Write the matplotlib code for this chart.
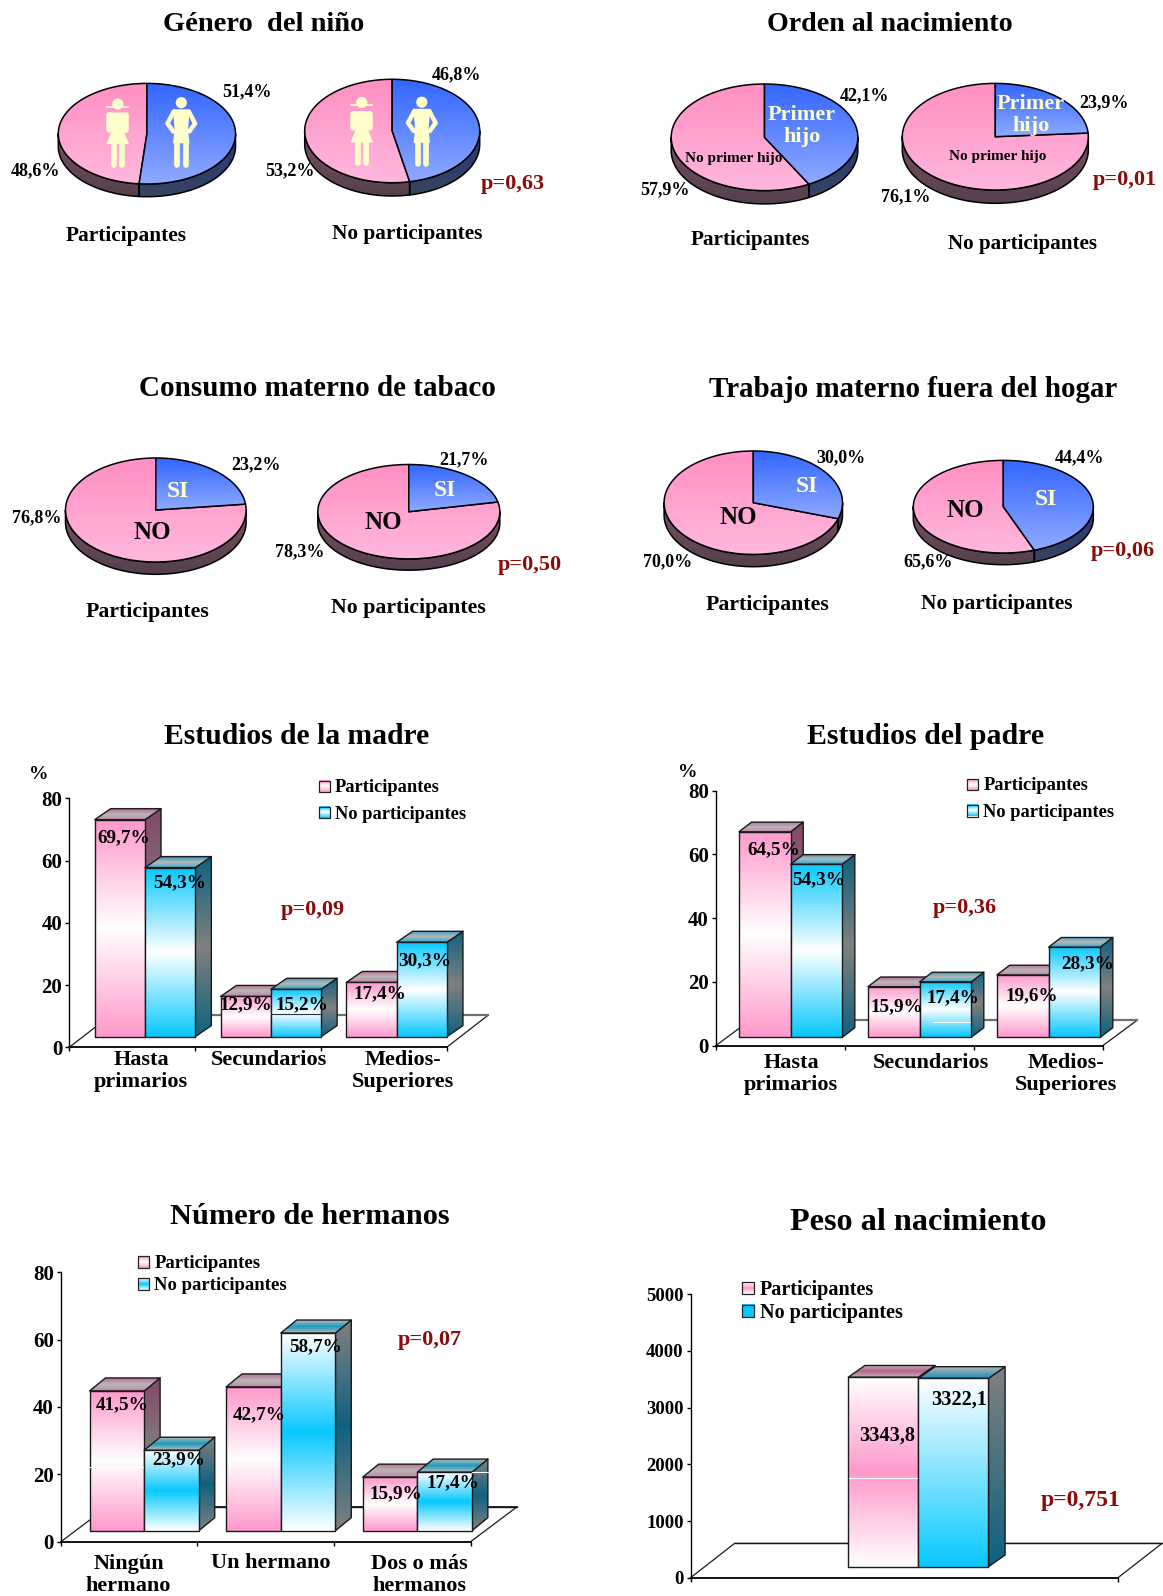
import numpy as np
import matplotlib
matplotlib.use("Agg")
import matplotlib.pyplot as plt
from matplotlib.colors import to_rgb
from matplotlib.patches import Polygon, Circle

W, H = 1163, 1596
plt.rcParams["font.family"] = ["Liberation Serif", "DejaVu Serif"]
plt.rcParams["font.weight"] = "bold"

# shares of the blue slice, percent
genero_part = [51.4, 48.6]
genero_nopart = [46.8, 53.2]
orden_part = [42.1, 57.9]
orden_nopart = [23.9, 76.1]
tabaco_part = [23.2, 76.8]
tabaco_nopart = [21.7, 78.3]
trabajo_part = [30.0, 70.0]
trabajo_nopart = [44.4, 65.6]

# bar groups
madre_cats = ["Hasta\nprimarios", "Secundarios", "Medios-\nSuperiores"]
madre_part = [69.7, 12.9, 17.4]
madre_nopart = [54.3, 15.2, 30.3]
padre_cats = ["Hasta\nprimarios", "Secundarios", "Medios-\nSuperiores"]
padre_part = [64.5, 15.9, 19.6]
padre_nopart = [54.3, 17.4, 28.3]
hermanos_cats = ["Ningún\nhermano", "Un hermano", "Dos o más\nhermanos"]
hermanos_part = [41.5, 42.7, 15.9]
hermanos_nopart = [23.9, 58.7, 17.4]
peso_part = [3343.8]
peso_nopart = [3322.1]

PINK, CYAN, WHITE = "#ff99cc", "#08c8ff", "#ffffff"
CREAM, DARKRED = "#ffffcc", "#8b0a0a"
SIDE_P, SIDE_B, GREY = "#84486a", "#0e627f", "#808080"
TOP = "#b8b8b8"

fig = plt.figure(figsize=(W / 100, H / 100), dpi=100, facecolor="white")

# full-figure layer in pixel units for free text, swatches and pictograms
ov = fig.add_axes([0, 0, 1, 1], zorder=10)
ov.set_xlim(0, W)
ov.set_ylim(H, 0)
ov.axis("off")
ov.patch.set_alpha(0)
ov.set_autoscale_on(False)


def put(x, y, s, size=15, color="black", **kw):
    ov.text(x, y + 1.8, s, fontsize=size, color=color, ha=kw.pop("ha", "center"),
            va="center", fontweight="bold", linespacing=kw.pop("ls", 1.0), **kw)


def gradient(stops, n=128):
    rgb = np.array([to_rgb(c) for c in stops])
    pos = np.linspace(0, 1, len(stops))
    t = np.linspace(0, 1, n)
    return np.stack([np.interp(t, pos, rgb[:, i]) for i in range(3)], axis=1)[:, None, :]


def fill_gradient(ax, pts, stops, z, edge="#1a1a1a", lw=1.0):
    pts = np.asarray(pts)
    poly = Polygon(pts, closed=True, transform=ax.transData, fc="none", ec=edge,
                   lw=lw, zorder=z + 0.1, clip_on=False, joinstyle="round")
    ax.add_patch(poly)
    ext = (pts[:, 0].min(), pts[:, 0].max(), pts[:, 1].min(), pts[:, 1].max())
    im = ax.imshow(gradient(stops), extent=ext, origin="upper", aspect="auto",
                   interpolation="bilinear", zorder=z)
    clip = Polygon(pts, closed=True, transform=ax.transData)
    im.set_clip_path(clip)
    im.set_clip_box(fig.bbox)


def pie3d(cx, cy, a, b, d, shares, lw=1.1):
    ax = fig.add_axes([(cx - a) / W, 1 - (cy + b) / H, 2 * a / W, 2 * b / H])
    ax.set_xlim(-1, 1)
    ax.set_ylim(-1, 1)
    ax.axis("off")
    ax.set_autoscale_on(False)
    end = 90 - shares[0] * 3.6
    depth = 2 * d / (2 * b)

    def arc(t0, t1):
        t = np.radians(np.linspace(t0, t1, 160))
        return np.column_stack([np.cos(t), np.sin(t)])

    def rim(t0, t1):
        top = arc(t0, t1)
        return np.vstack([top, top[::-1] - [0, depth]])

    # visible rim: lower half of the disc only
    if end < 0:
        fill_gradient(ax, rim(0, end), ["#24387a", "#384460"], 1, "black", lw)
    fill_gradient(ax, rim(min(end, 0), -180), ["#7a5064", "#54404c"], 1, "black", lw)
    fill_gradient(ax, np.vstack([[[0, 0]], arc(end, -270)]), ["#ff8fc4", "#ffb8de"], 2, "black", lw)
    fill_gradient(ax, np.vstack([[[0, 0]], arc(90, end)]), ["#3366ff", "#8faaff"], 3, "black", lw)


def girl(x, y):
    ov.add_patch(Circle((x, y - 28.5), 5.6, fc=CREAM, ec="none"))
    ov.plot([x - 10.5, x + 10.5], [y - 25.8, y - 25.8], color=CREAM, lw=1.2)
    ov.add_patch(Polygon([(x - 9, y - 20), (x + 9, y - 20), (x + 6.3, y - 1), (x + 11.3, y + 11.5),
                          (x - 11.3, y + 11.5), (x - 6.3, y - 1)], fc=CREAM, ec="none"))
    for s in (-1, 1):
        ov.plot([x + s * 8.6, x + s * 8.6], [y - 17.5, y - 3], color=CREAM, lw=4, solid_capstyle="round")
        ov.plot([x + s * 3.9, x + s * 3.9], [y + 11, y + 32], color=CREAM, lw=4.1, solid_capstyle="round")


def boy(x, y):
    ov.add_patch(Circle((x, y - 29.8), 5.6, fc=CREAM, ec="none"))
    ov.add_patch(Polygon([(x - 8.3, y - 23.2), (x + 8.3, y - 23.2), (x + 6.7, y - 2), (x + 8.3, y + 10.8),
                          (x - 8.3, y + 10.8), (x - 6.7, y - 2)], fc=CREAM, ec="none"))
    for s in (-1, 1):
        ov.plot([x + s * 7.5, x + s * 13.8, x + s * 8], [y - 21, y - 9, y - 1], color=CREAM, lw=3.2,
                solid_joinstyle="round", solid_capstyle="round")
        ov.plot([x + s * 4.2, x + s * 4.2], [y + 10, y + 32], color=CREAM, lw=4.1, solid_capstyle="round")


def bars3d(axis_px, ymax, yticks, cats, part, nopart, start, width, floor, depth, base_px,
           front, side, top, floor_color="#1a1a1a", floor_lw=1.0, edge="#1a1a1a"):
    x0, x1, ytop, y0 = axis_px
    n = len(cats)
    ax = fig.add_axes([x0 / W, 1 - y0 / H, (x1 - x0) / W, (y0 - ytop) / H], zorder=2)
    ax.patch.set_alpha(0)
    ax.set_xlim(0, n)
    ax.set_ylim(0, ymax)
    ax.set_autoscale_on(False)
    px_x = n / (x1 - x0)
    px_y = ymax / (y0 - ytop)
    for s in ("top", "right"):
        ax.spines[s].set_visible(False)
    ax.spines["left"].set_linewidth(1.0)
    ax.spines["bottom"].set_linewidth(1.3)
    ax.set_yticks(yticks)
    ax.set_xticks(range(n + 1))
    ax.set_xticklabels([])
    ax.tick_params(length=3, width=1, pad=2, labelsize=15 if ymax < 100 else 13.5)

    # floor behind the bars
    fx, fy = floor[0] * px_x, floor[1] * px_y
    ax.plot([0, fx, n + fx, n], [0, fy, fy, 0], color="#1a1a1a", lw=0.9, clip_on=False, zorder=1)
    ax.plot([fx, n + fx], [fy, fy], color=floor_color, lw=floor_lw, clip_on=False, zorder=1.1)

    dx, dy = depth[0] * px_x, depth[1] * px_y
    base = base_px * px_y
    z = 3
    for i in range(n):
        for j, (vals, k) in enumerate(((part, 0), (nopart, 1))):
            l = i + start + j * width
            r = l + width
            t = base + vals[i]
            fill_gradient(ax, [(r, base), (r + dx, base + dy), (r + dx, t + dy), (r, t)], side[k], z, edge)
            fill_gradient(ax, [(l, t), (r, t), (r + dx, t + dy), (l + dx, t + dy)], top[k], z + 1, edge)
            fill_gradient(ax, [(l, base), (r, base), (r, t), (l, t)], front[k], z + 2, edge)
            z += 3
    return ax


def swatch(x0, x1, y0, y1, stops):
    ov.imshow(gradient(stops), extent=(x0, x1, y1, y0), aspect="auto", interpolation="bilinear", zorder=0.5)
    ov.add_patch(Polygon([(x0, y0), (x1, y0), (x1, y1), (x0, y1)], fc="none", ec="#222222", lw=0.9, zorder=0.6))


def pct(v):
    return f"{v:.1f}%".replace(".", ",")


# ---- pies ----
pie3d(146.9, 133.7, 88.6, 50.3, 12.7, genero_part)
pie3d(392.2, 131.0, 87.5, 51.7, 13.3, genero_nopart)
pie3d(764.5, 137.3, 93.3, 53.3, 13.3, orden_part)
pie3d(995.3, 136.7, 93.0, 53.3, 13.3, orden_nopart)
pie3d(155.8, 510.0, 90.3, 52.0, 12.3, tabaco_part)
pie3d(408.8, 511.7, 91.0, 47.2, 11.3, tabaco_nopart)
pie3d(753.3, 502.7, 89.2, 51.7, 12.3, trabajo_part)
pie3d(1003.3, 506.7, 90.0, 46.3, 11.7, trabajo_nopart)

girl(117.7, 132.5)
boy(181.3, 132.5)
girl(361.8, 131)
boy(421.8, 132)

put(263.5, 22.4, "Género  del niño", 20.5)
put(247, 89.5, pct(genero_part[0]), 13)
put(35.6, 169, pct(genero_part[1]), 13)
put(457, 73, pct(genero_nopart[0]), 13)
put(290, 169, pct(genero_nopart[1]), 13)
put(513, 182, "p=0,63", 16, DARKRED)
put(126, 234, "Participantes", 15.4)
put(407, 232, "No participantes", 15.3)

put(890, 22.4, "Orden al nacimiento", 20.2)
put(864, 93.6, pct(orden_part[0]), 13)
put(665, 188, pct(orden_part[1]), 13)
put(1104, 101, pct(orden_nopart[0]), 13)
put(905.6, 195.4, pct(orden_nopart[1]), 13)
put(1125, 178, "p=0,01", 16, DARKRED)
put(750, 238, "Participantes", 15.2)
put(1022.6, 242, "No participantes", 15.2)
put(733.6, 156.7, "No primer hijo", 11)
put(998, 154.7, "No primer hijo", 11)
put(802, 124, "Primer\nhijo", 16, CREAM, ls=1.15)
put(1031, 113.5, "Primer\nhijo", 16, CREAM, ls=1.15)

put(317.5, 386.6, "Consumo materno de tabaco", 21)
put(256.4, 463, pct(tabaco_part[0]), 13)
put(36.6, 516, pct(tabaco_part[1]), 13)
put(464, 458, pct(tabaco_nopart[0]), 13)
put(300, 549.5, pct(tabaco_nopart[1]), 13)
put(530, 563, "p=0,50", 16, DARKRED)
put(147.5, 610.5, "Participantes", 15.7)
put(408, 606.4, "No participantes", 15.7)
put(178, 489.4, "SI", 17, CREAM)
put(152.6, 531, "NO", 18)
put(444.6, 488.4, "SI", 17, CREAM)
put(383.6, 521, "NO", 18)

put(912.7, 387.7, "Trabajo materno fuera del hogar", 20.9)
put(840.5, 456, pct(trabajo_part[0]), 13)
put(667.5, 559.6, pct(trabajo_part[1]), 13)
put(1079.6, 456, pct(trabajo_nopart[0]), 13)
put(928, 559.6, pct(trabajo_nopart[1]), 13)
put(1123, 549.5, "p=0,06", 16, DARKRED)
put(767, 603.4, "Participantes", 15.7)
put(997, 602.4, "No participantes", 15.4)
put(807, 485, "SI", 17, CREAM)
put(738.7, 516, "NO", 18)
put(1046, 497.6, "SI", 17, CREAM)
put(965.6, 508.8, "NO", 18)

# ---- bars: mother's and father's schooling share one colour scheme ----
front_a = [[PINK, WHITE, PINK], [CYAN, WHITE, CYAN]]
side_a = [[SIDE_P, GREY, SIDE_P], [SIDE_B, GREY, SIDE_B]]
top_a = [["#bd6e98", TOP, "#c486a8"], ["#3a9cc0", TOP, "#2aa8d0"]]

bars3d((69.3, 446.7, 798.3, 1047.3), 80, [0, 20, 40, 60, 80], madre_cats, madre_part, madre_nopart,
       0.202, 0.40, (41.7, 32.3), (16, 11), 10.7, front_a, side_a, top_a, "#707070", 1.6)
put(297, 734.6, "Estudios de la madre", 21.3)
put(39, 772.7, "%", 14)
put(313.3, 908.3, "p=0,09", 16, DARKRED)
for (x, y), v in zip([(124, 836), (246, 1003.3), (380, 991.7)], madre_part):
    put(x, y, pct(v), 13.8)
for (x, y), v in zip([(180, 881), (302, 1003.3), (425, 958.7)], madre_nopart):
    put(x, y, pct(v), 13.8)
for x, c in zip([141.3, 269.3, 403.3], madre_cats):
    put(x, 1058.5 if "\n" not in c else 1069.5, c, 16, ls=1.12)
swatch(319, 330, 781, 792.3, front_a[0])
swatch(319, 330, 806.7, 818.3, front_a[1])
put(335, 786, "Participantes", 13.3, ha="left")
put(335, 812.3, "No participantes", 13.3, ha="left")
ov.plot([271.7, 321.7], [1014.3, 1014.3], color="#333333", lw=0.8)

bars3d((715.7, 1102.7, 790.7, 1045.7), 80, [0, 20, 40, 60, 80], padre_cats, padre_part, padre_nopart,
       0.18, 0.40, (34.7, 25.7), (12.7, 9.7), 8.3, front_a, side_a, top_a, "#707070", 1.6)
put(926, 734.6, "Estudios del padre", 21.5)
put(687.7, 770.7, "%", 14)
put(965, 905.7, "p=0,36", 16, DARKRED)
for (x, y), v in zip([(774, 847.7), (897, 1005), (1032, 994)], padre_part):
    put(x, y, pct(v), 13.8)
for (x, y), v in zip([(818.7, 878.3), (953.3, 996), (1087.7, 961.7)], padre_nopart):
    put(x, y, pct(v), 13.8)
for x, c in zip([791.3, 931, 1065.7], padre_cats):
    put(x, 1061 if "\n" not in c else 1072.5, c, 16, ls=1.12)
swatch(967.3, 978.3, 779, 790, front_a[0])
swatch(967.3, 978.3, 805, 816.5, front_a[1])
put(983.3, 784, "Participantes", 13.3, ha="left")
put(983.3, 810.3, "No participantes", 13.3, ha="left")
ov.plot([932.7, 970], [1022.3, 1022.3], color="white", lw=0.8)

front_b = [[PINK, WHITE, PINK], [WHITE, CYAN, WHITE]]
side_b = [[SIDE_P, GREY, SIDE_P], [GREY, SIDE_B, GREY]]
top_b = [["#bd6e98", TOP, "#c486a8"], [TOP, "#1a9cc0", TOP]]

bars3d((60.9, 470.6, 1272.3, 1541.7), 80, [0, 20, 40, 60, 80], hermanos_cats, hermanos_part, hermanos_nopart,
       0.21, 0.40, (46.6, 35), (15.9, 13), 11, front_b, side_b, top_b)
put(310.3, 1215, "Número de hermanos", 21.9)
put(430, 1337.7, "p=0,07", 16, DARKRED)
for (x, y), v in zip([(122.4, 1403.3), (259, 1412.7), (395.5, 1491.7)], hermanos_part):
    put(x, y, pct(v), 13.8)
for (x, y), v in zip([(179, 1458.3), (315.8, 1345), (453, 1480.7)], hermanos_nopart):
    put(x, y, pct(v), 13.8)
for x, c in zip([128.5, 271, 419], hermanos_cats):
    put(x, 1561 if "\n" not in c else 1573, c, 16, ls=1.12)
swatch(138, 149, 1256, 1267.7, front_b[0])
swatch(138, 149, 1278.3, 1290, front_b[1])
put(154.5, 1262, "Participantes", 13.5, ha="left")
put(154.5, 1284, "No participantes", 13.5, ha="left")
ov.plot([89.6, 143], [1466.7, 1466.7], color="white", lw=0.8)
ov.plot([471.6, 488.5], [1472.3, 1472.3], color="white", lw=0.8)

front_c = [[WHITE, PINK, WHITE], [WHITE, CYAN]]
side_c = [[SIDE_P, GREY], [GREY, SIDE_B]]
top_c = [[TOP, "#c06090", TOP], [TOP, "#2090b8"]]

bars3d((690.6, 1118, 1294.3, 1577.7), 5000, [0, 1000, 2000, 3000, 4000, 5000], ["peso"], peso_part, peso_nopart,
       0.369, 0.164, (44, 34.3), (16.6, 11.7), 11, front_c, side_c, top_c)
put(917.8, 1221, "Peso al nacimiento", 23.2)
put(1080.5, 1499, "p=0,751", 17, DARKRED)
put(886.6, 1433.3, f"{peso_part[0]:.1f}".replace(".", ","), 14.6)
put(959.3, 1397.3, f"{peso_nopart[0]:.1f}".replace(".", ","), 14.6)
swatch(742.2, 754.4, 1282.3, 1294.3, front_c[0])
swatch(742.2, 754.4, 1305, 1317.3, [CYAN, CYAN])
put(760, 1287.7, "Participantes", 14.5, ha="left")
put(760, 1311, "No participantes", 14.5, ha="left")
ov.plot([848.5, 917], [1478.3, 1478.3], color="white", lw=0.8)

fig.savefig("out.png", dpi=100)
